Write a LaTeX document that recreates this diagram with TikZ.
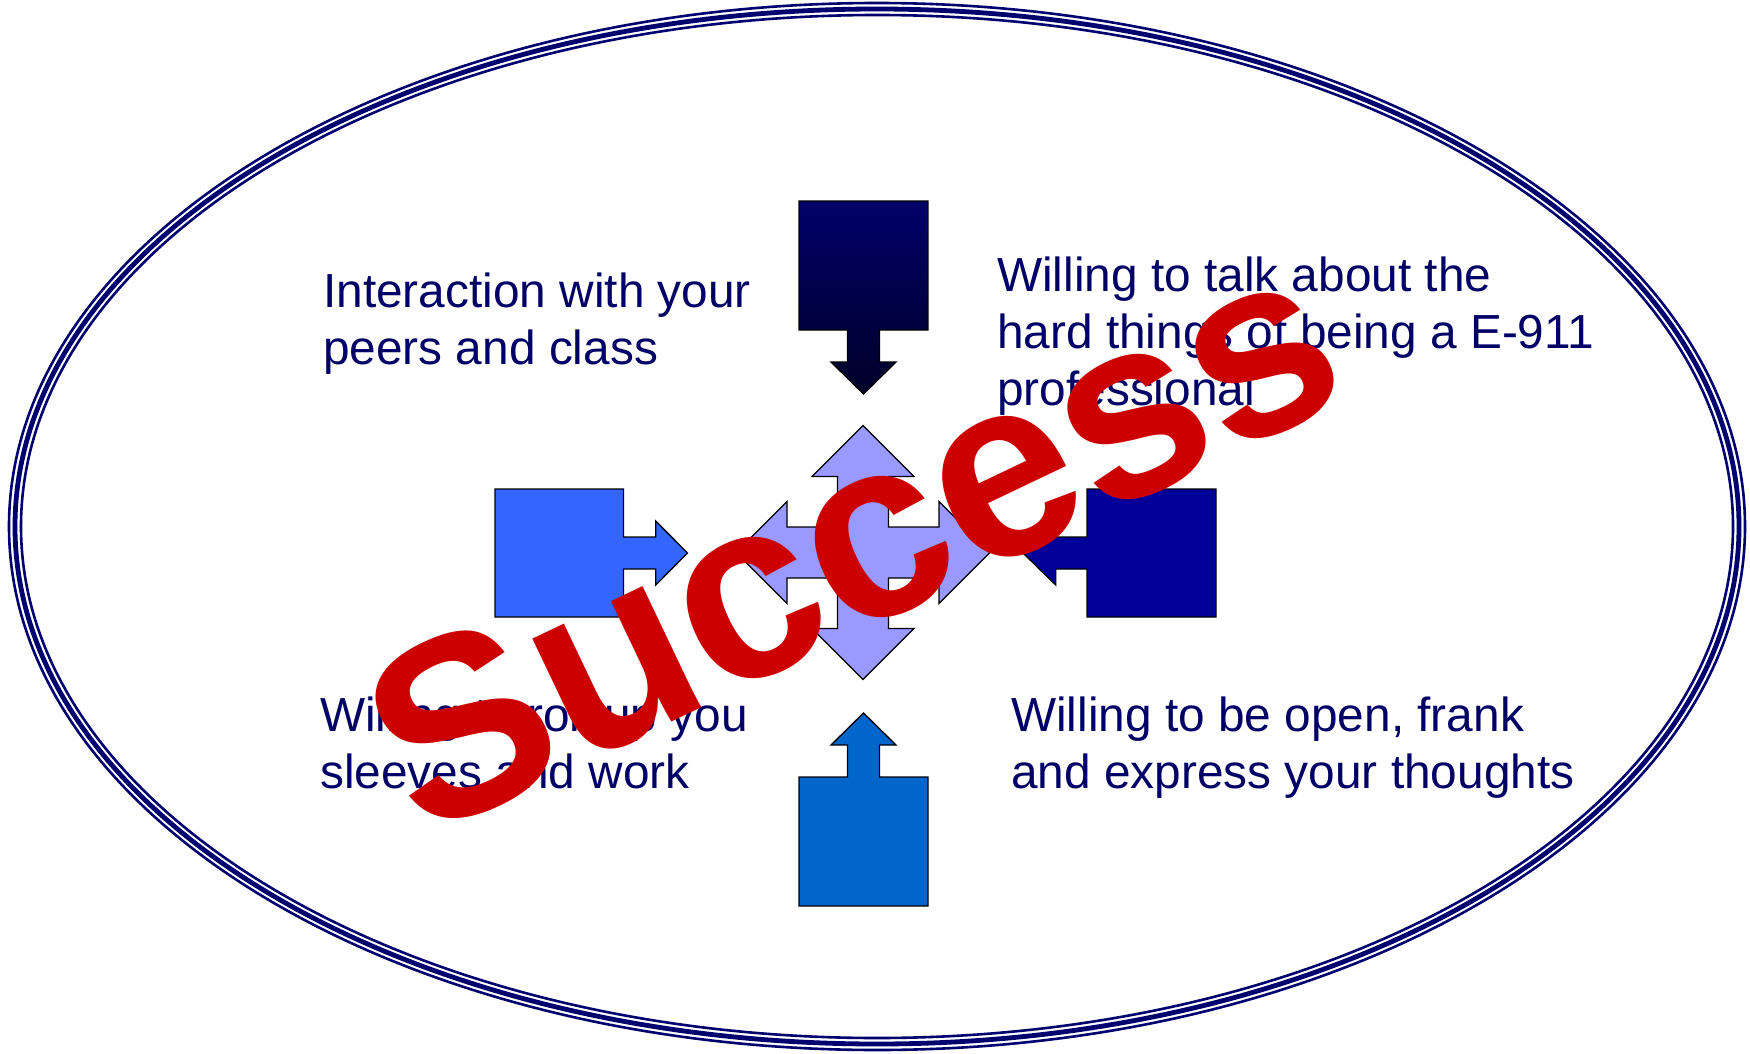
\documentclass[tikz,border=0pt]{standalone}
\usepackage{fontspec}
\setmainfont{Liberation Sans}
\definecolor{navytext}{RGB}{0,0,102}
\definecolor{navyline}{RGB}{0,0,110}
\definecolor{quadfill}{RGB}{153,153,255}
\definecolor{leftfill}{RGB}{51,102,255}
\definecolor{rightfill}{RGB}{0,0,153}
\definecolor{bottomfill}{RGB}{0,102,204}
\definecolor{topfillA}{RGB}{0,0,105}
\definecolor{topfillB}{RGB}{0,0,40}
\definecolor{succred}{RGB}{204,0,0}
\tikzset{
  ringline/.style={draw=navyline},
  blockarrow/.style={draw=black, line width=1.3pt, line join=miter},
  label/.style={font=\fontsize{47.8}{57}\selectfont, text=navytext, align=left, anchor=base west, inner sep=0pt},
}
\begin{document}
\begin{tikzpicture}[x=1pt,y=-1pt]
\useasboundingbox (0,0) rectangle (1750,1054);
\fill[white] (0,0) rectangle (1750,1054);
% triple ring
\draw[ringline, line width=2.6pt] (877,526.5) ellipse [x radius=868, y radius=523.5];
\draw[ringline, line width=4.8pt] (877,526.5) ellipse [x radius=862, y radius=517.5];
\draw[ringline, line width=2.6pt] (877,526.5) ellipse [x radius=856, y radius=511.5];
% central quad arrow
\draw[blockarrow, fill=quadfill, line width=1.2pt]
  (863,425.5) -- (914,476.5) -- (888.5,476.5) -- (888.5,527) -- (939,527) -- (939,501.5)
  -- (990,552.5) -- (939,603.5) -- (939,578) -- (888.5,578) -- (888.5,628.5) -- (914,628.5)
  -- (863,679.5) -- (812,628.5) -- (837.5,628.5) -- (837.5,578) -- (787,578) -- (787,603.5)
  -- (736,552.5) -- (787,501.5) -- (787,527) -- (837.5,527) -- (837.5,476.5) -- (812,476.5) -- cycle;
% top block arrow (down)
\draw[blockarrow, top color=topfillA, bottom color=topfillB]
  (799,201) -- (928,201) -- (928,330) -- (879.5,330) -- (879.5,362) -- (896,362)
  -- (863.5,394) -- (831,362) -- (847.5,362) -- (847.5,330) -- (799,330) -- cycle;
% bottom block arrow (up)
\draw[blockarrow, fill=bottomfill]
  (799,906) -- (928,906) -- (928,777) -- (879.5,777) -- (879.5,745) -- (896,745)
  -- (863.5,713) -- (831,745) -- (847.5,745) -- (847.5,777) -- (799,777) -- cycle;
% left block arrow (right)
\draw[blockarrow, fill=leftfill]
  (495,489) -- (623.5,489) -- (623.5,537) -- (655.7,537) -- (655.7,521) -- (687.5,553)
  -- (655.7,585) -- (655.7,569) -- (623.5,569) -- (623.5,617) -- (495,617) -- cycle;
% right block arrow (left)
\draw[blockarrow, fill=rightfill]
  (1216,489) -- (1087,489) -- (1087,537) -- (1055.7,537) -- (1055.7,521) -- (1023,553)
  -- (1055.7,585) -- (1055.7,569) -- (1087,569) -- (1087,617) -- (1216,617) -- cycle;
% labels (base anchor = baseline of last line)
\node[label] (tl) at (323,364) {Interaction with your\\peers and class};
\node[label] (tr) at (997,405) {Willing to talk about the\\hard things of being a E-911\\professional};
\node[label] (bl) at (320,788) {Willing to roll up you\\sleeves and work};
\node[label] (br) at (1011,788) {Willing to be open, frank\\and express your thoughts};
% Success
\node[font=\fontsize{255}{255}\selectfont\bfseries, text=succred, rotate=25.5, inner sep=0pt] (succ) at (852,539) {Success};
\end{tikzpicture}
\end{document}
